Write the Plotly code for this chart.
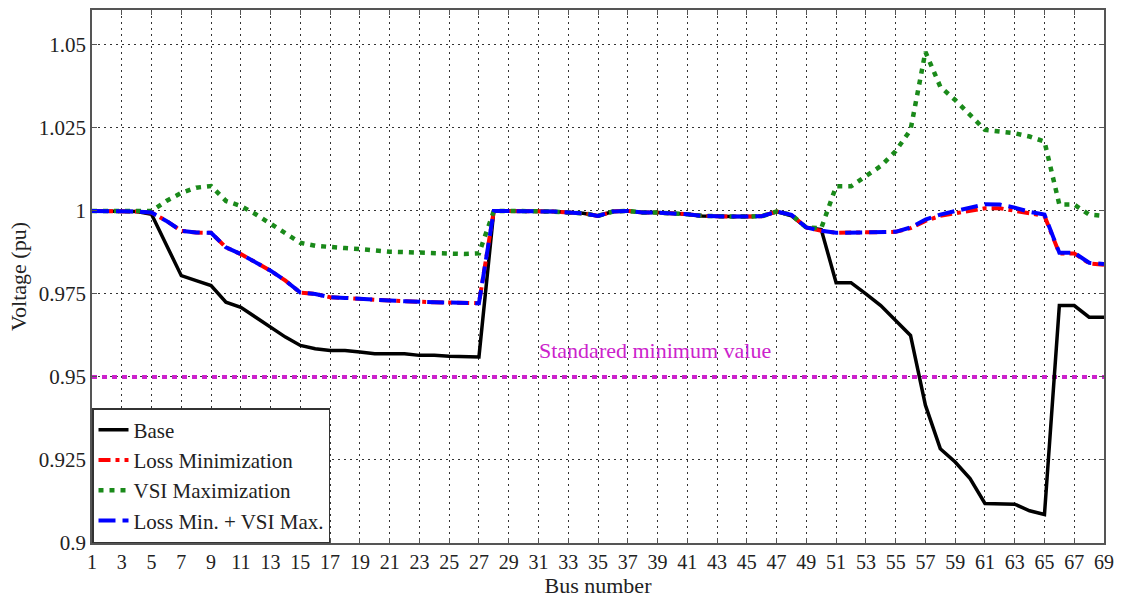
import plotly.graph_objects as go

bus = list(range(1, 70))

base = [1.0, 1.0, 1.0, 0.9998, 0.999, 0.990, 0.9805, 0.979, 0.9775, 0.9725,
        0.971, 0.968, 0.965, 0.962, 0.9595, 0.9585, 0.958, 0.958, 0.9575, 0.957,
        0.957, 0.957, 0.9565, 0.9565, 0.9562, 0.956, 0.956, 1.0, 1.0, 1.0,
        1.0, 0.9998, 0.9995, 0.9993, 0.9985, 0.9998, 1.0, 0.9995, 0.9995, 0.9993,
        0.999, 0.9985, 0.9983, 0.9983, 0.9983, 0.9984, 0.9998, 0.9985, 0.995, 0.9944,
        0.9784, 0.9784, 0.975, 0.9715, 0.967, 0.9625, 0.9415, 0.9284, 0.9244, 0.9194,
        0.9119, 0.9119, 0.9117, 0.9097, 0.9086, 0.9715, 0.9715, 0.968, 0.968]

loss_min = [1.0, 1.0, 1.0, 0.9998, 0.9995, 0.997, 0.994, 0.9935, 0.9934, 0.989,
            0.987, 0.9845, 0.982, 0.979, 0.9754, 0.975, 0.974, 0.9738, 0.9735, 0.973,
            0.973, 0.9728, 0.9725, 0.9725, 0.9724, 0.9723, 0.9722, 1.0, 1.0, 1.0,
            1.0, 0.9998, 0.9995, 0.9993, 0.9985, 0.9998, 1.0, 0.9995, 0.9995, 0.9993,
            0.999, 0.9985, 0.9983, 0.9983, 0.9983, 0.9984, 0.9998, 0.9988, 0.995, 0.994,
            0.9934, 0.9934, 0.9935, 0.9935, 0.9937, 0.9948, 0.997, 0.9985, 0.9993, 1.0002,
            1.0008, 1.0008, 1.0002, 0.9993, 0.9985, 0.9872, 0.9872, 0.9842, 0.9838]

vsi_max = [1.0, 1.0, 1.0, 1.0, 1.0, 1.003, 1.0054, 1.007, 1.0075, 1.003,
           1.0015, 0.999, 0.996, 0.993, 0.9904, 0.9895, 0.989, 0.9888, 0.9885, 0.988,
           0.9877, 0.9876, 0.9875, 0.9873, 0.987, 0.987, 0.9872, 1.0, 1.0, 1.0,
           1.0, 0.9998, 0.9995, 0.9993, 0.9985, 0.9998, 1.0, 0.9995, 0.9995, 0.9993,
           0.999, 0.9985, 0.9983, 0.9983, 0.9983, 0.9984, 0.9998, 0.9988, 0.995, 0.9948,
           1.0074, 1.0074, 1.0105, 1.0135, 1.018, 1.0244, 1.0479, 1.0374, 1.0334, 1.0289,
           1.0244, 1.0239, 1.0234, 1.0224, 1.0209, 1.0019, 1.0019, 0.9989, 0.9985]

loss_vsi = [1.0, 1.0, 1.0, 0.9998, 0.9995, 0.997, 0.994, 0.9935, 0.9934, 0.989,
            0.987, 0.9845, 0.982, 0.979, 0.9754, 0.975, 0.974, 0.9738, 0.9735, 0.973,
            0.973, 0.9728, 0.9725, 0.9725, 0.9724, 0.9723, 0.9722, 1.0, 1.0, 1.0,
            1.0, 0.9998, 0.9995, 0.9993, 0.9985, 0.9998, 1.0, 0.9995, 0.9995, 0.9993,
            0.999, 0.9985, 0.9983, 0.9983, 0.9983, 0.9984, 0.9998, 0.9988, 0.995, 0.994,
            0.9934, 0.9934, 0.9935, 0.9935, 0.9937, 0.995, 0.9974, 0.9989, 0.9999, 1.001,
            1.002, 1.0019, 1.001, 0.9997, 0.9989, 0.9874, 0.9874, 0.9844, 0.984]

std_min = [0.95] * len(bus)
std_label = "Standared minimum value"
std_label_pos = (38.8, 0.958)

x_ticks = list(range(1, 70, 2))
y_ticks = [0.9, 0.925, 0.95, 0.975, 1.0, 1.025, 1.05]
y_tick_text = ["0.9", "0.925", "0.95", "0.975", "1", "1.025", "1.05"]

FONT = "Liberation Serif, Times New Roman, serif"

fig = go.Figure()
fig.add_trace(go.Scatter(x=bus, y=std_min, mode="lines", showlegend=False,
                         line=dict(color="#cc22cc", width=4, dash="5px,5px")))
fig.add_trace(go.Scatter(x=bus, y=base, mode="lines", name="Base",
                         line=dict(color="black", width=3.5)))
fig.add_trace(go.Scatter(x=bus, y=loss_min, mode="lines", name="Loss Minimization",
                         line=dict(color="red", width=4, dash="12px,5px,4px,5px")))
fig.add_trace(go.Scatter(x=bus, y=vsi_max, mode="lines", name="VSI Maximization",
                         line=dict(color="#1a8a1a", width=4.5, dash="5px,6px")))
fig.add_trace(go.Scatter(x=bus, y=loss_vsi, mode="lines", name="Loss Min. + VSI Max.",
                         line=dict(color="blue", width=4, dash="17px,7px")))

fig.add_annotation(x=std_label_pos[0], y=std_label_pos[1], text=std_label,
                   showarrow=False,
                   font=dict(family=FONT, size=22, color="#cc22cc"))

fig.update_layout(
    width=1122, height=598,
    margin=dict(l=92, r=14, t=8, b=55),
    paper_bgcolor="white", plot_bgcolor="white",
    font=dict(family=FONT, size=20, color="#222"),
    legend=dict(x=0, y=0, xanchor="left", yanchor="bottom",
                bgcolor="white", bordercolor="#333", borderwidth=1.5,
                font=dict(family=FONT, size=21, color="#222"),
                tracegroupgap=0),
)
fig.update_xaxes(range=[1, 69], tickvals=x_ticks, ticks="inside", ticklen=5,
                 tickcolor="#555", ticklabeloverflow="allow",
                 showline=True, linecolor="#555", linewidth=1.5, mirror="ticks",
                 showgrid=True, gridcolor="#333", griddash="2px,4px", gridwidth=1,
                 zeroline=False, title=dict(text="Bus number", standoff=2,
                 font=dict(family=FONT, size=22)),
                 tickfont=dict(family=FONT, size=20))
fig.update_yaxes(range=[0.9, 1.0605], tickvals=y_ticks, ticktext=y_tick_text,
                 ticks="inside", ticklen=5, tickcolor="#555",
                 showline=True, linecolor="#555", linewidth=1.5, mirror="ticks",
                 showgrid=True, gridcolor="#333", griddash="2px,4px", gridwidth=1,
                 zeroline=False, title=dict(text="Voltage (pu)", standoff=6,
                 font=dict(family=FONT, size=22)),
                 tickfont=dict(family=FONT, size=21))

fig.write_html("out.html", config={"displayModeBar": False},
               post_script="document.body.style.margin='0';document.body.style.overflow='hidden';")
